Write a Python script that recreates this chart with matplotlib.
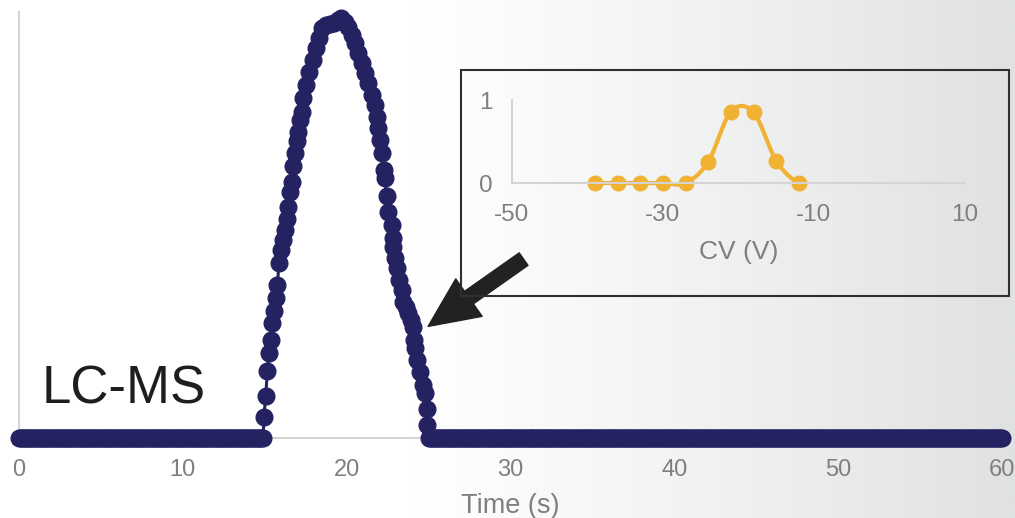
import numpy as np
import matplotlib
matplotlib.use("Agg")
import matplotlib.pyplot as plt
from matplotlib.patches import Rectangle
from matplotlib.colors import LinearSegmentedColormap

plt.rcParams["font.family"] = ["Liberation Sans", "DejaVu Sans"]
plt.rcParams["axes.unicode_minus"] = False

# -----------------------------
# Data
# -----------------------------
# LC-MS trace: flat baseline before and after the peak (0.1 s scans)
BASE_LEFT_T = np.round(np.arange(0.0, 15.0, 0.1), 2)
BASE_RIGHT_T = np.round(np.arange(25.0, 60.01, 0.1), 2)

# peak scans (time s, normalised intensity)
PEAK_T = [14.95, 15.06, 15.16, 15.28, 15.36, 15.46, 15.56, 15.67, 15.77, 15.87,
          15.97, 16.13, 16.24, 16.34, 16.44, 16.54, 16.65, 16.74, 16.85, 16.95,
          17.05, 17.15, 17.26, 17.34, 17.52, 17.70, 17.94, 18.13, 18.31, 18.50,
          18.74, 18.98, 19.23, 19.47, 19.65, 19.90, 20.08, 20.33, 20.51, 20.69,
          20.92, 21.12, 21.31, 21.55, 21.73, 21.83, 21.91, 22.04, 22.14, 22.28,
          22.34, 22.44, 22.54, 22.75, 22.80, 22.85, 22.95, 23.09, 23.21, 23.36,
          23.46, 23.62, 23.76, 23.93, 24.07, 24.11, 24.17, 24.31, 24.48, 24.68,
          24.78, 24.89, 24.92]
PEAK_I = [0.049, 0.099, 0.158, 0.200, 0.230, 0.269, 0.298, 0.329, 0.359, 0.410,
          0.441, 0.465, 0.488, 0.514, 0.542, 0.578, 0.602, 0.638, 0.669, 0.698,
          0.719, 0.746, 0.766, 0.798, 0.829, 0.859, 0.887, 0.915, 0.939, 0.962,
          0.969, 0.972, 0.974, 0.981, 0.986, 0.977, 0.965, 0.946, 0.927, 0.904,
          0.880, 0.857, 0.833, 0.805, 0.782, 0.754, 0.728, 0.700, 0.670, 0.629,
          0.610, 0.568, 0.531, 0.500, 0.469, 0.449, 0.423, 0.399, 0.371, 0.347,
          0.320, 0.308, 0.293, 0.277, 0.261, 0.230, 0.211, 0.183, 0.156, 0.124,
          0.106, 0.068, 0.031]

# inset: CV scan
CV = [-39, -36, -33, -30, -27, -24, -21, -18, -15, -12]
CV_I = [0.0, 0.0, 0.0, 0.0, 0.0, 0.257, 0.86, 0.85, 0.27, 0.0]

MAIN_XTICKS = [0, 10, 20, 30, 40, 50, 60]
INSET_XTICKS = [-50, -30, -10, 10]
INSET_YTICKS = [0, 1]

NAVY = "#252262"
ORANGE = "#F1B132"
GREY_TXT = "#7f7f7f"
AXIS_GREY = "#d4d4d4"


def smooth_line(x, y, n=20):
    # Catmull-Rom style curve through the points (like a "smoothed line" chart)
    x = np.asarray(x, float)
    y = np.asarray(y, float)
    px = np.concatenate([[2 * x[0] - x[1]], x, [2 * x[-1] - x[-2]]])
    py = np.concatenate([[y[0]], y, [y[-1]]])
    xs, ys = [], []
    s = np.linspace(0, 1, n, endpoint=False)
    for i in range(1, len(px) - 2):
        p0x, p1x, p2x, p3x = px[i - 1:i + 3]
        p0y, p1y, p2y, p3y = py[i - 1:i + 3]
        c1x, c1y = p1x + (p2x - p0x) / 6, p1y + (p2y - p0y) / 6
        c2x, c2y = p2x - (p3x - p1x) / 6, p2y - (p3y - p1y) / 6
        bx = (1 - s) ** 3 * p1x + 3 * (1 - s) ** 2 * s * c1x + 3 * (1 - s) * s ** 2 * c2x + s ** 3 * p2x
        by = (1 - s) ** 3 * p1y + 3 * (1 - s) ** 2 * s * c1y + 3 * (1 - s) * s ** 2 * c2y + s ** 3 * p2y
        xs.extend(bx)
        ys.extend(by)
    xs.append(x[-1])
    ys.append(y[-1])
    return np.array(xs), np.array(ys)


# -----------------------------
# Figure + gradient background
# -----------------------------
fig = plt.figure(figsize=(10.15, 5.18), dpi=100)
bg = fig.add_axes([0, 0, 1, 1], zorder=-10)
grad = np.clip((np.linspace(0, 1, 512) - 0.40) / 0.60, 0, 1) ** 1.1
cmap = LinearSegmentedColormap.from_list("bg", ["#ffffff", "#e0e2e2"])
bg.imshow(grad[np.newaxis, :], aspect="auto", cmap=cmap, extent=[0, 1, 0, 1])
bg.set_axis_off()

# -----------------------------
# Main LC-MS trace
# -----------------------------
ax = fig.add_axes([0.0187, 0.1544, 0.9685, 0.8224])
ax.patch.set_alpha(0)

t_all = np.concatenate([BASE_LEFT_T, PEAK_T, BASE_RIGHT_T])
i_all = np.concatenate([np.zeros(len(BASE_LEFT_T)), PEAK_I, np.zeros(len(BASE_RIGHT_T))])
ax.plot(t_all, i_all, color=NAVY, lw=2.2, marker="o", ms=12, mec=NAVY,
        mfc=NAVY, clip_on=False, zorder=3)

ax.set_xlim(0, 60)
ax.set_ylim(0, 1.0)
ax.set_xticks(MAIN_XTICKS)
ax.set_yticks([])
ax.tick_params(axis="x", length=0, pad=15, labelsize=17, labelcolor=GREY_TXT)
for s in ["top", "right"]:
    ax.spines[s].set_visible(False)
for s in ["left", "bottom"]:
    ax.spines[s].set_color(AXIS_GREY)
    ax.spines[s].set_linewidth(1.5)
ax.set_xlabel("Time (s)", fontsize=19.5, color=GREY_TXT, labelpad=9)

fig.text(42 / 1015, (518 - 403) / 518, "LC-MS", fontsize=38, color="#1e1e1e",
         va="baseline", ha="left")

# -----------------------------
# Inset: CV scan
# -----------------------------
fig.patches.append(Rectangle((0.4542, 0.4286), 0.5399, 0.4363, transform=fig.transFigure,
                             fill=False, edgecolor="#2f2f2f", lw=1.5, zorder=5))

ins = fig.add_axes([0.5044, 0.6467, 0.4463, 0.1602], zorder=6)
ins.patch.set_alpha(0)
sx, sy = smooth_line(CV, CV_I)
ins.plot(sx, sy, color=ORANGE, lw=3, clip_on=False)
ins.plot(CV, CV_I, "o", color=ORANGE, ms=10.5, clip_on=False)
ins.set_xlim(-50, 10)
ins.set_ylim(0, 1)
ins.set_xticks(INSET_XTICKS)
ins.set_yticks(INSET_YTICKS)
ins.tick_params(length=0, labelsize=17.5, labelcolor=GREY_TXT)
ins.tick_params(axis="x", pad=15)
ins.tick_params(axis="y", pad=14)
for s in ["top", "right"]:
    ins.spines[s].set_visible(False)
for s in ["left", "bottom"]:
    ins.spines[s].set_color(AXIS_GREY)
    ins.spines[s].set_linewidth(1.5)
ins.set_xlabel("CV (V)", fontsize=19, color=GREY_TXT, labelpad=10)

# arrow pointing at the peak tail
ax.annotate("", xy=(24.97, 0.262), xytext=(30.8, 0.42),
            arrowprops=dict(arrowstyle="simple,head_length=36,head_width=33,tail_width=11",
                            mutation_scale=1, color="#222222", shrinkA=0, shrinkB=0),
            zorder=8, annotation_clip=False)

fig.savefig("out.png", dpi=100)
